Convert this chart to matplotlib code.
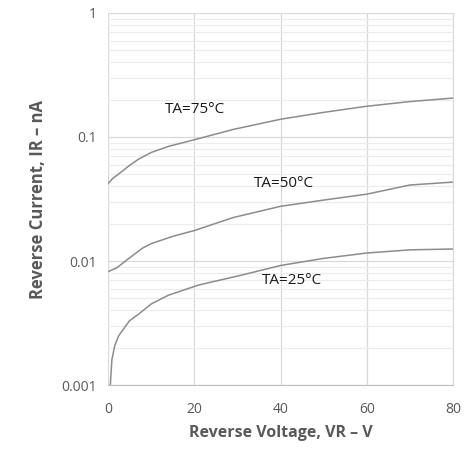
import matplotlib
matplotlib.use("Agg")
import matplotlib.pyplot as plt
from matplotlib.ticker import LogLocator, FixedLocator, NullFormatter

# reverse leakage current vs reverse voltage (nA)
v_75 = [0, 1, 3, 5, 7, 10, 14, 20, 29, 40, 50, 60, 70, 80]
ir_75 = [0.042, 0.046, 0.052, 0.059, 0.066, 0.075, 0.084, 0.095, 0.115, 0.139, 0.158, 0.177, 0.193, 0.206]

v_50 = [0, 2, 5, 8, 10, 15, 20, 29, 40, 50, 60, 70, 80]
ir_50 = [0.0082, 0.0088, 0.0106, 0.0127, 0.0138, 0.0158, 0.0176, 0.0224, 0.0276, 0.031, 0.0346, 0.041, 0.0433]

v_25 = [0.5, 0.9, 1.6, 2.5, 3.5, 5, 7.4, 10, 14, 21, 31, 36, 40, 50, 60, 70, 80]
ir_25 = [0.00095, 0.0016, 0.0021, 0.0025, 0.0028, 0.0033, 0.0038, 0.0045, 0.0053, 0.0064, 0.0077, 0.0085, 0.0092, 0.0105, 0.0116, 0.0123, 0.0125]

x_ticks = [0, 20, 40, 60, 80]
y_ticks = [0.001, 0.01, 0.1, 1]
y_tick_labels = ["0.001", "0.01", "0.1", "1"]

labels = [("TA=75°C", 13.2, 0.168), ("TA=50°C", 33.9, 0.0425), ("TA=25°C", 35.7, 0.0070)]

plt.rcParams['font.family'] = ['Open Sans', 'DejaVu Sans']

fig = plt.figure(figsize=(4.71, 4.51), dpi=100)
ax = fig.add_axes([0.2293, 0.1463, 0.7325, 0.8249])

line_col = '#8c8c8c'
ax.plot(v_75, ir_75, color=line_col, lw=1.1)
ax.plot(v_50, ir_50, color=line_col, lw=1.1)
ax.plot(v_25, ir_25, color=line_col, lw=1.1)

for txt, x, y in labels:
    ax.text(x, y, txt, fontsize=11, color='#1a1a1a', va='center', ha='left')

ax.set_yscale('log')
ax.set_xlim(0, 80)
ax.set_ylim(0.001, 1)
ax.xaxis.set_major_locator(FixedLocator(x_ticks))
ax.yaxis.set_major_locator(FixedLocator(y_ticks))
ax.set_yticklabels(y_tick_labels)
ax.yaxis.set_minor_locator(LogLocator(base=10, subs=range(2, 10)))
ax.yaxis.set_minor_formatter(NullFormatter())

ax.grid(which='major', color='#d9d9d9', lw=0.9)
ax.grid(which='minor', axis='y', color='#ececec', lw=0.8)
ax.set_axisbelow(True)

for side in ['top', 'left']:
    ax.spines[side].set_visible(False)
ax.spines['right'].set_color('#d9d9d9')
ax.spines['bottom'].set_color('#bfbfbf')

ax.tick_params(which='both', length=0, labelsize=10, labelcolor='#595959')
ax.tick_params(axis='x', pad=12)
ax.tick_params(axis='y', pad=8)

ax.set_xlabel('Reverse Voltage, VR – V', fontsize=11.5, fontweight='bold', color='#595959', labelpad=6)
ax.set_ylabel('Reverse Current, IR – nA', fontsize=12, fontweight='bold', color='#595959', labelpad=10)

fig.savefig('out.png', dpi=100)
